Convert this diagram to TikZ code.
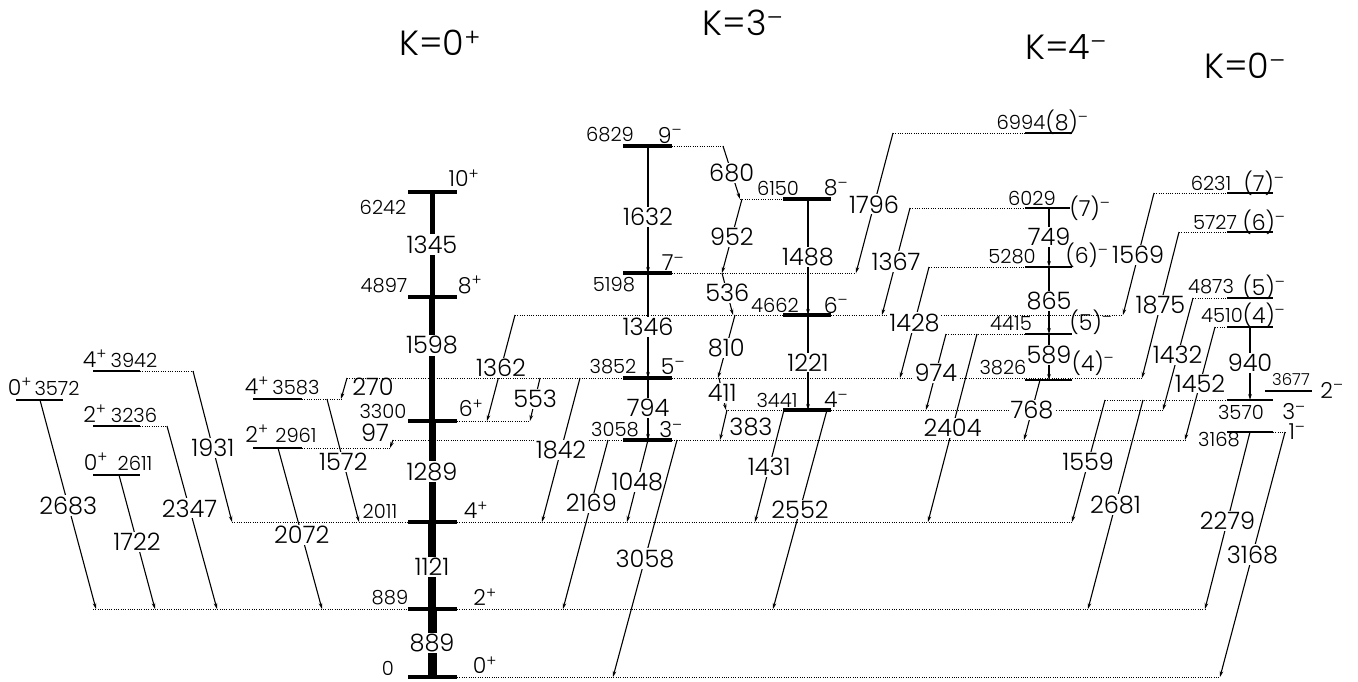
\documentclass[tikz,border=0pt]{standalone}
\usepackage{fontspec}
\setmainfont{Poppins}[UprightFont={* Light}]
\usetikzlibrary{arrows.meta}
\newcommand\spp{\textsuperscript{+}}
\newcommand\smm{\textsuperscript{--}}
% gamma with label on the line: [style]{name}{start}{end}{label}{pos}
\newcommand\gam[6][]{\coordinate (#2s) at (#3);\coordinate (#2e) at (#4);
  \draw[gam,#1] (#2s) -- node[glab,pos=#6] (#2l) {#5} (#2e);}
% gamma without label on the line
\newcommand\gamx[4][]{\coordinate (#2s) at (#3);\coordinate (#2e) at (#4);
  \draw[gam,#1] (#2s) -- (#2e);}
\begin{document}
\begin{tikzpicture}[x=1pt,y=-1pt,
  lvl/.style={line width=4pt},
  tlvl/.style={line width=1.1pt},
  dots/.style={line width=0.6pt,dash pattern=on 0.7pt off 1.6pt},
  gam/.style={line width=1.1pt,-{Stealth[length=6pt,width=3.6pt]}},
  glab/.style={fill=white,inner sep=1.2pt,font=\fontsize{24}{24}\selectfont},
  elab/.style={inner sep=0pt,font=\fontsize{19.5}{19.5}\selectfont},
  slab/.style={inner sep=0pt,font=\fontsize{22}{22}\selectfont},
  ttl/.style={inner sep=0pt,font=\fontsize{35}{35}\selectfont}]
\useasboundingbox (0,0) rectangle (1358,681);
\fill[white] (0,0) rectangle (1358,681);

% ---------- titles
\node[ttl] (t1) at (440,43) {K=0\spp};
\node[ttl] (t2) at (743,23) {K=3\smm};
\node[ttl] (t3) at (1066,47) {K=4\smm};
\node[ttl] (t4) at (1245,66) {K=0\smm};

% ---------- dotted level extensions
\foreach \y/\a/\b in {146/672/723, 199/740/783, 273/672/856, 133/893/1025,
  208/910/1025, 267/929/1025, 315/515/783, 315/831/1123, 334/946/1025,
  378/347/623, 378/672/1142, 410/726/783, 410/831/1163, 440/393/623,
  440/672/1185, 421/457/530, 522/232/408, 522/457/1072, 609/93/408,
  609/457/1205, 677/457/1220, 371/140/193, 426/140/167, 399/302/343,
  448/302/390, 400/1105/1227, 432/1273/1285, 193/1154/1227, 232/1179/1227,
  298/1193/1227, 327/1215/1227}
  \draw[dots] (\a,\y) -- (\b,\y);

% ---------- thin level lines (side bands)
\foreach \y/\a/\b in {400/16/63, 371/93/140, 426/93/140, 475/93/140,
  399/253/302, 448/253/302,
  133/1025/1072, 208/1025/1070, 267/1025/1072, 334/1025/1072, 380/1025/1072,
  193/1227/1273, 232/1227/1273, 298/1227/1273, 327/1227/1273,
  400/1227/1273, 432/1227/1273, 391/1265/1312}
  \draw[tlvl] (\a,\y) -- (\b,\y);

% ---------- thick band levels
\foreach \y in {192,297,421,522,609,677}
  \draw[lvl] (408,\y) -- (457,\y);
\foreach \y in {146,273,378,440}
  \draw[lvl] (623,\y) -- (672,\y);
\foreach \y in {199,315,410}
  \draw[lvl] (783,\y) -- (831,\y);

% ---------- K=0+ band gammas
\gam[line width=5pt,-]{g1345}{432,192}{432,297}{1345}{0.5}
\gam[line width=6pt,-]{g1598}{432,297}{432,421}{1598}{0.39}
\gam[line width=7pt,-]{g1289}{432,421}{432,522}{1289}{0.5}
\gam[line width=8pt,-]{g1121}{432,522}{432,609}{1121}{0.52}
\gam[line width=9pt,-]{g889}{432,609}{432,677}{889}{0.5}

% ---------- left side gammas
\gam{g2683}{40,400}{96,609}{2683}{0.505}
\gam{g1722}{119,475}{155,609}{1722}{0.5}
\gam{g2347}{167,426}{217,609}{2347}{0.45}
\gam{g1931}{193,371}{232,522}{1931}{0.51}
\gam{g2072}{278,448}{322,609}{2072}{0.54}
\gam{g1572}{327,399}{359,522}{1572}{0.51}
\gamx{g97}{393,440}{390,448}
\node[glab,fill=none] (g97l) at (375,433) {97};
\gamx{g270}{347,378}{341,399}
\node[glab,fill=none,inner sep=0pt] (g270l) at (373,387) {270};
\gam{g1362}{515,315}{487,421}{1362}{0.5}
\gam{g553}{540,378}{530,421}{553}{0.49}
\gam{g1842}{580,378}{542,522}{1842}{0.5}

% ---------- K=3- band
\gam{g1632}{648,146}{648,273}{1632}{0.56}
\gam{g1346}{648,273}{648,378}{1346}{0.51}
\gam{g794}{648,378}{648,440}{794}{0.48}
\gam{g1488}{808,199}{808,315}{1488}{0.5}
\gam{g1221}{808,315}{808,410}{1221}{0.5}
\gam{g680}{723,146}{740,199}{680}{0.51}
\gam{g952}{742,199}{722,273}{952}{0.51}
\gam{g536}{722,273}{733,315}{536}{0.48}
\gam{g810}{735,315}{718,378}{810}{0.52}
\gam{g411}{719,378}{726,410}{411}{0.47}
\gamx{g383}{727,410}{720,440}
\node[glab,fill=none] (g383l) at (751,427) {383};
\gam{g2169}{608,440}{563,609}{2169}{0.37}
\gam{g1048}{648,440}{627,522}{1048}{0.51}
\gam{g3058}{677,440}{613,677}{3058}{0.5}
\gam{g1431}{784,410}{755,522}{1431}{0.51}
\gam{g2552}{827,410}{773,609}{2552}{0.5}

% ---------- K=4- band
\gam{g1796}{893,133}{856,273}{1796}{0.51}
\gam{g1367}{910,208}{882,315}{1367}{0.5}
\gam{g1428}{929,267}{900,378}{1428}{0.5}
\gam{g974}{946,334}{926,410}{974}{0.51}
\gam{g2404}{977,334}{928,522}{2404}{0.5}
\gam{g768}{1040,380}{1024,440}{768}{0.5}
\gam[line width=1.6pt]{g749}{1049,208}{1049,267}{749}{0.49}
\gam[line width=1.6pt]{g865}{1049,267}{1049,334}{865}{0.51}
\gam[line width=1.6pt]{g589}{1049,334}{1049,380}{589}{0.46}

% ---------- K=0- band
\gam{g1569}{1154,193}{1123,315}{1569}{0.51}
\gam{g1875}{1179,232}{1142,378}{1875}{0.5}
\gam{g1432}{1193,298}{1163,410}{1432}{0.51}
\gam{g1452}{1215,327}{1185,440}{1452}{0.5}
\gam[line width=2pt]{g940}{1250,327}{1250,400}{940}{0.49}
\gam{g1559}{1105,400}{1072,522}{1559}{0.51}
\gam{g2681}{1143,400}{1088,609}{2681}{0.5}
\gam{g2279}{1250,432}{1205,609}{2279}{0.5}
\gam{g3168}{1285,432}{1220,677}{3168}{0.5}

% ---------- level labels: K=0+ band
\node[elab] (e6242) at (383,207) {6242};
\node[elab] (e4897) at (384,286) {4897};
\node[elab] (e3300) at (383,411) {3300};
\node[elab] (e2011) at (380,511) {2011};
\node[elab] (e889) at (390,598) {889};
\node[elab] (e0) at (388,668) {0};
\node[slab] (s10) at (464,178) {10\spp};
\node[slab] (s8) at (470,285) {8\spp};
\node[slab] (s6) at (471,408) {6\spp};
\node[slab] (s4) at (476,510) {4\spp};
\node[slab] (s2) at (485,597) {2\spp};
\node[slab] (s0) at (485,665) {0\spp};

% ---------- side levels left
\node[slab,anchor=base] (s3572) at (20,395) {0\spp};
\node[elab,anchor=base] (e3572) at (57,395) {3572};
\node[slab,anchor=base] (s3942) at (95,367) {4\spp};
\node[elab,anchor=base] (e3942) at (134,367) {3942};
\node[slab,anchor=base] (s3236) at (95,422) {2\spp};
\node[elab,anchor=base] (e3236) at (134,422) {3236};
\node[slab,anchor=base] (s2611) at (96,470) {0\spp};
\node[elab,anchor=base] (e2611) at (135,470) {2611};
\node[slab,anchor=base] (s3583) at (257,394) {4\spp};
\node[elab,anchor=base] (e3583) at (296,394) {3583};
\node[slab,anchor=base] (s2961) at (257,442) {2\spp};
\node[elab,anchor=base] (e2961) at (296,442) {2961};

% ---------- K=3- band labels
\node[elab] (e6829) at (610,135) {6829};
\node[slab] (s6829) at (670,135) {9\smm};
\node[elab] (e5198) at (614,285) {5198};
\node[slab] (s5198) at (673,263) {7\smm};
\node[elab] (e3852) at (613,367) {3852};
\node[slab] (s3852) at (673,367) {5\smm};
\node[elab] (e3058) at (615,430) {3058};
\node[slab] (s3058) at (671,430) {3\smm};
\node[elab] (e6150) at (778,188) {6150};
\node[slab] (s6150) at (836,188) {8\smm};
\node[elab] (e4662) at (775,305) {4662};
\node[slab] (s4662) at (836,305) {6\smm};
\node[elab] (e3441) at (777,400) {3441};
\node[slab] (s3441) at (836,400) {4\smm};

% ---------- K=4- band labels
\node[elab] (e6994) at (1021,122) {6994};
\node[slab] (s6994) at (1067,122) {(8)\smm};
\node[elab] (e6029) at (1032,198) {6029};
\node[slab] (s6029) at (1090,208) {(7)\smm};
\node[elab] (e5280) at (1012,257) {5280};
\node[slab] (s5280) at (1087,255) {(6)\smm};
\node[elab] (e4415) at (1011,324) {4415};
\node[slab] (s4415) at (1091,322) {(5)\smm};
\node[elab] (e3826) at (1003,368) {3826};
\node[slab] (s3826) at (1093,363) {(4)\smm};

% ---------- K=0- band labels
\node[elab] (e6231) at (1211,183) {6231};
\node[slab] (s6231) at (1264,183) {(7)\smm};
\node[elab] (e5727) at (1215,222) {5727};
\node[slab] (s5727) at (1264,222) {(6)\smm};
\node[elab] (e4873) at (1211,287) {4873};
\node[slab] (s4873) at (1264,287) {(5)\smm};
\node[elab] (e4510) at (1222,315) {4510};
\node[slab] (s4510) at (1264,315) {(4)\smm};
\node[elab,font=\fontsize{16.5}{16.5}\selectfont] (e3677) at (1291,380) {3677};
\node[slab] (s3677) at (1332,390) {2\smm};
\node[elab] (e3570) at (1241,412) {3570};
\node[slab] (s3570) at (1294,412) {3\smm};
\node[elab] (e3168) at (1219,440) {3168};
\node[slab] (s3168) at (1297,432) {1\smm};
\end{tikzpicture}
\end{document}
